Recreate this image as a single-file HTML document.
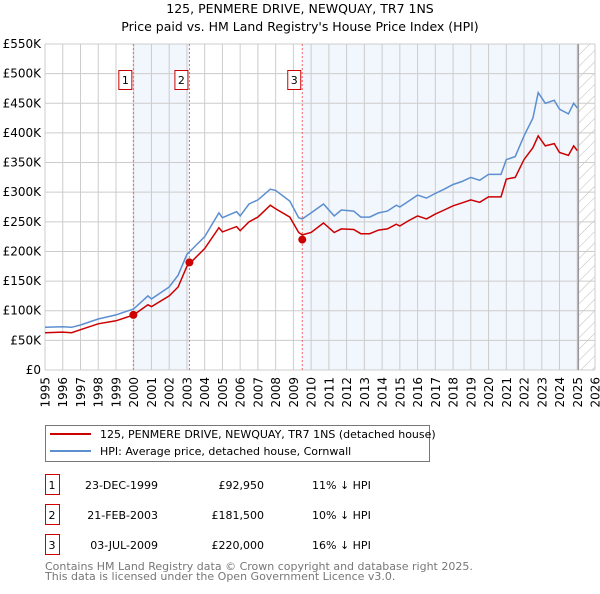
<!DOCTYPE html>
<html><head><meta charset="utf-8"><style>
body{margin:0;background:#fff;font-family:"DejaVu Sans","Liberation Sans",sans-serif;}
svg text{font-family:"DejaVu Sans","Liberation Sans",sans-serif;}
</style></head><body>
<svg id="chart" width="600" height="590" viewBox="0 0 600 590" xmlns="http://www.w3.org/2000/svg">
<defs><pattern id="hatch" width="8" height="8" patternUnits="userSpaceOnUse" patternTransform="rotate(45)"><line x1="0" y1="0" x2="0" y2="8" stroke="#bbb" stroke-width="1"/></pattern></defs>
<text x="300" y="13" text-anchor="middle" font-size="12.5">125, PENMERE DRIVE, NEWQUAY, TR7 1NS</text>
<text x="300" y="31" text-anchor="middle" font-size="12.5">Price paid vs. HM Land Registry's House Price Index (HPI)</text>
<g id="plot"></g>
<g>
<rect x="45.5" y="425.5" width="384" height="36" fill="#fff" stroke="#777"/>
<line x1="50" y1="434" x2="91" y2="434" stroke="#cc0000" stroke-width="2"/>
<text x="100" y="438" font-size="11">125, PENMERE DRIVE, NEWQUAY, TR7 1NS (detached house)</text>
<line x1="50" y1="451" x2="91" y2="451" stroke="#5b8fd0" stroke-width="2"/>
<text x="100" y="455" font-size="11">HPI: Average price, detached house, Cornwall</text>
</g>
<g id="table" font-size="11"></g>
<text x="45" y="570" font-size="11" fill="#777">Contains HM Land Registry data © Crown copyright and database right 2025.</text>
<text x="45" y="580" font-size="11" fill="#777">This data is licensed under the Open Government Licence v3.0.</text>
</svg>
<script>
const dates=[1995,1996,1996.5,1997,1998,1999,2000,2000.8,2001,2002,2002.5,2003,2004,2004.8,2005,2005.8,2006,2006.5,2007,2007.7,2008,2008.8,2009.3,2009.5,2010,2010.7,2011.3,2011.7,2012.4,2012.8,2013.3,2013.8,2014.3,2014.8,2015,2015.5,2016,2016.5,2017,2017.5,2018,2018.5,2019,2019.5,2020,2020.7,2021,2021.5,2022,2022.5,2022.8,2023.2,2023.7,2024,2024.5,2024.8,2025];
const hpiValues=[72,73,72,76,86,93,103,125,120,140,160,195,225,265,257,267,260,280,287,305,303,285,257,255,265,280,260,270,268,258,258,265,268,278,275,285,295,290,298,305,313,318,325,320,330,330,355,360,395,425,468,450,455,440,432,450,442];
const paidValues=[63,64,63,68,78,83,93,110,107,125,140,175,205,240,233,242,235,250,258,278,272,258,232,228,232,248,232,238,237,230,230,236,238,246,243,252,260,255,263,270,277,282,287,283,292,292,322,325,355,375,395,378,382,367,362,378,370];
const saleDates=[1999.98,2003.14,2009.5];
const salePrices=[92.95,181.5,220];
const saleLabels=["1","2","3"];
const saleDateText=["23-DEC-1999","21-FEB-2003","03-JUL-2009"];
const salePriceText=["£92,950","£181,500","£220,000"];
const saleHpiText=["11% ↓ HPI","10% ↓ HPI","16% ↓ HPI"];
const yTicks=[0,50,100,150,200,250,300,350,400,450,500,550];
const yTickLabels=["£0","£50K","£100K","£150K","£200K","£250K","£300K","£350K","£400K","£450K","£500K","£550K"];
const xTicks=[1995,1996,1997,1998,1999,2000,2001,2002,2003,2004,2005,2006,2007,2008,2009,2010,2011,2012,2013,2014,2015,2016,2017,2018,2019,2020,2021,2022,2023,2024,2025,2026];

const L=45,R=595,T=44,B=370,X0=1995,X1=2026,YMAX=550,HATCH=2025.06;
const xs=v=>L+(v-X0)/(X1-X0)*(R-L);
const ys=v=>B-v/YMAX*(B-T);
const NS="http://www.w3.org/2000/svg";
const plot=document.getElementById('plot');
function mk(tag,attrs,parent){const e=document.createElementNS(NS,tag);for(const k in attrs)e.setAttribute(k,attrs[k]);(parent||plot).appendChild(e);return e;}

let r=mk('rect',{x:xs(saleDates[0]),y:T,width:xs(saleDates[1])-xs(saleDates[0]),height:B-T,fill:'#eef3fc',opacity:0.75});


r=mk('rect',{x:xs(saleDates[2]),y:T,width:xs(HATCH)-xs(saleDates[2]),height:B-T,fill:'#eef3fc',opacity:0.75});


r=mk('rect',{x:xs(HATCH),y:T,width:R-xs(HATCH),height:B-T,fill:'url(#hatch)'});



yTicks.forEach((v,i)=>{
 const g=mk('line',{x1:L,x2:R,y1:ys(v),y2:ys(v),stroke:'#ccc','stroke-width':1});
 
 
 const t=mk('text',{x:L-4,y:ys(v)+4,'text-anchor':'end','font-size':12});
 t.textContent=yTickLabels[i];
 
 
});
xTicks.forEach(v=>{
 const g=mk('line',{x1:xs(v),x2:xs(v),y1:T,y2:B,stroke:'#ccc','stroke-width':1});
 
 
 const tx=xs(v)+4.5, ty=B+7;
 const t=mk('text',{x:tx,y:ty,'text-anchor':'end','font-size':12,transform:'rotate(-90 '+tx+' '+ty+')'});
 t.textContent=String(v);
 
 
});
let hl=mk('line',{x1:xs(HATCH),x2:xs(HATCH),y1:T,y2:B,stroke:'#999','stroke-width':1.5});



saleDates.forEach((d,i)=>{
 const l=mk('line',{x1:xs(d),x2:xs(d),y1:T,y2:B,stroke:'#e66','stroke-width':1,'stroke-dasharray':'2,2'});
 
 
 const bx=mk('rect',{x:xs(d)-14.5,y:70.5,width:13,height:19,fill:'#fff',stroke:'#cc0000'});
 
 
 const t=mk('text',{x:xs(d)-8,y:84,'text-anchor':'middle','font-size':11});
 t.textContent=saleLabels[i];
 
 
});

function path(vals){return dates.map((d,i)=>(i?'L':'M')+xs(d).toFixed(1)+','+ys(vals[i]).toFixed(1)).join('');}
const hp=mk('path',{d:path(hpiValues),fill:'none',stroke:'#5b8fd0','stroke-width':1.5});


const pp=mk('path',{d:path(paidValues),fill:'none',stroke:'#cc0000','stroke-width':1.5});


saleDates.forEach((d,i)=>{
 const c=mk('circle',{cx:xs(d),cy:ys(salePrices[i]),r:4,fill:'#cc0000'});
 
 
});

const tbl=document.getElementById('table');
const rowY=[485,515,545];
saleDates.forEach((d,i)=>{
 const y=rowY[i];
 const b=mk('rect',{x:45.5,y:y-10.5,width:14,height:20,fill:'#fff',stroke:'#cc0000'},tbl);
 
 
 const cells=[[52,saleLabels[i],'middle'],[158,saleDateText[i],'end'],[264,salePriceText[i],'end'],[312,saleHpiText[i],'start']];
 cells.forEach(c=>{
  const t=mk('text',{x:c[0],y:y+4,'text-anchor':c[2]},tbl);
  t.textContent=c[1];
  
  
 });
});
</script>
</body></html>
